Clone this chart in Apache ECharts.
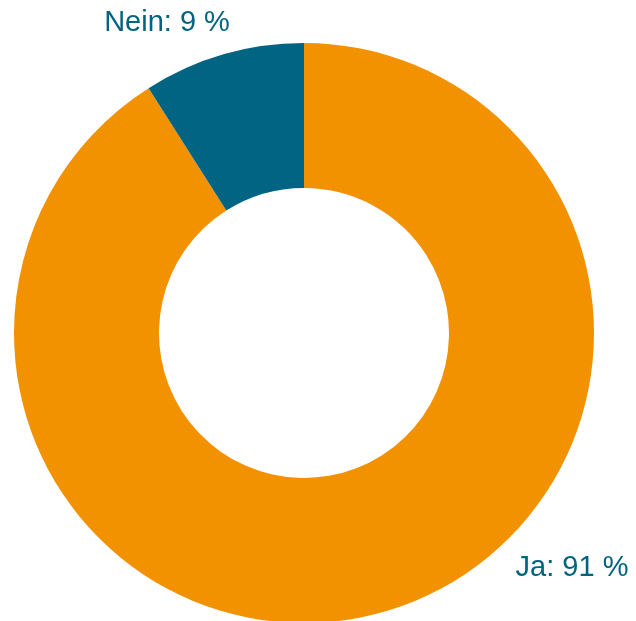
<!DOCTYPE html>
<html>
<head>
<meta charset="utf-8">
<style>
  html, body { margin: 0; padding: 0; background: #fff; }
  #chart { width: 636px; height: 621px; }
</style>
<script src="https://cdn.jsdelivr.net/npm/echarts@6/dist/echarts.min.js"></script>
</head>
<body>
<div id="chart"></div>
<script>
// Daten
var categories = ['Ja', 'Nein'];
var values = [91, 9];
var colors = ['#F39200', '#006482'];
// Label-Positionen (Mitte des Texts)
var labelPos = [[572, 568], [167, 23]];

var chart = echarts.init(document.getElementById('chart'));

var option = {
  animation: false,
  series: [
    {
      type: 'pie',
      center: [304, 333],
      radius: [145, 290],
      startAngle: 90,
      clockwise: true,
      data: categories.map(function (c, i) {
        return { name: c, value: values[i], itemStyle: { color: colors[i] } };
      }),
      label: {
        show: true,
        position: 'outside',
        formatter: '{b}: {c} %',
        color: '#00637F',
        fontSize: 29,
        fontFamily: 'Liberation Sans, Arial, sans-serif'
      },
      labelLine: { show: false },
      labelLayout: function (params) {
        var p = labelPos[params.dataIndex];
        return { x: p[0], y: p[1], align: 'center', verticalAlign: 'middle' };
      },
      emphasis: { disabled: true }
    }
  ]
};

chart.setOption(option);
</script>
</body>
</html>
